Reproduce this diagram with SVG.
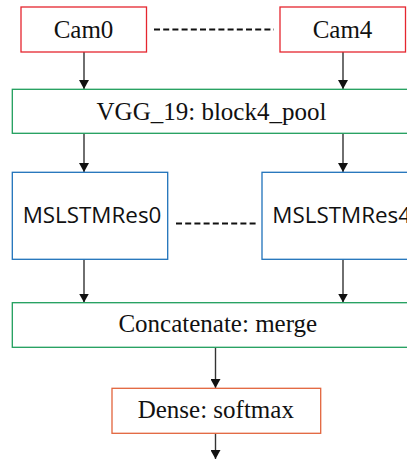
<svg xmlns="http://www.w3.org/2000/svg" width="407" height="459" viewBox="0 0 407 459">
  <style>
    .box { fill: #ffffff; stroke-width: 1.3; }
    .cam { stroke: #e5262f; }
    .layer { stroke: #1f9e5c; }
    .rnn { stroke: #1f72ba; }
    .out { stroke: #e2643c; }
    .serif { font-family: "Liberation Serif", "Times New Roman", serif; font-size: 25px; fill: #111111; text-anchor: middle; }
    .sans { font-family: "Open Sans", "Noto Sans", sans-serif; font-size: 22.4px; fill: #111111; text-anchor: middle; }
    .edge { stroke: #333333; stroke-width: 1.4; fill: none; }
    .dash { stroke: #111111; stroke-width: 1.8; stroke-dasharray: 6 3.2; fill: none; }
  </style>
  <defs>
    <marker id="arrow" markerWidth="10" markerHeight="10" refX="9" refY="5" orient="auto" markerUnits="userSpaceOnUse">
      <path d="M0,0 L9,5 L0,10 Z" fill="#111111"/>
    </marker>
  </defs>

  <g id="connectors">
    <path class="edge" d="M84,52 V89" marker-end="url(#arrow)"/>
    <path class="edge" d="M343,52 V89" marker-end="url(#arrow)"/>
    <path class="edge" d="M84,133.5 V172" marker-end="url(#arrow)"/>
    <path class="edge" d="M343,133.5 V172" marker-end="url(#arrow)"/>
    <path class="edge" d="M84,259.5 V302.5" marker-end="url(#arrow)"/>
    <path class="edge" d="M343,259.5 V302.5" marker-end="url(#arrow)"/>
    <path class="edge" d="M215.5,347.5 V388" marker-end="url(#arrow)"/>
    <path class="edge" d="M215.5,433.5 V459" marker-end="url(#arrow)"/>
    <path class="dash" d="M154,29.5 H274"/>
    <path class="dash" d="M176,223.5 H256"/>
  </g>

  <g id="cam0">
    <rect class="box cam" x="21" y="7" width="125.5" height="45"/>
    <text class="serif" x="83.5" y="38.3">Cam0</text>
  </g>
  <g id="cam4">
    <rect class="box cam" x="280" y="7" width="125.5" height="45"/>
    <text class="serif" x="342.5" y="38.3">Cam4</text>
  </g>
  <g id="vgg19">
    <rect class="box layer" x="12.3" y="89.3" width="410" height="44"/>
    <text class="serif" x="211.5" y="120">VGG_19: block4_pool</text>
  </g>
  <g id="mslstmres0">
    <rect class="box rnn" x="12.3" y="172.3" width="155.4" height="87"/>
    <text class="sans" x="92" y="223.3">MSLSTMRes0</text>
  </g>
  <g id="mslstmres4">
    <rect class="box rnn" x="262" y="172.3" width="155.4" height="87"/>
    <text class="sans" x="341.7" y="223.3">MSLSTMRes4</text>
  </g>
  <g id="concatenate">
    <rect class="box layer" x="12.3" y="302.7" width="410" height="44.6"/>
    <text class="serif" x="217.8" y="331.7">Concatenate: merge</text>
  </g>
  <g id="dense">
    <rect class="box out" x="112" y="388.3" width="208.7" height="45"/>
    <text class="serif" x="215.8" y="417.7">Dense: softmax</text>
  </g>
</svg>
